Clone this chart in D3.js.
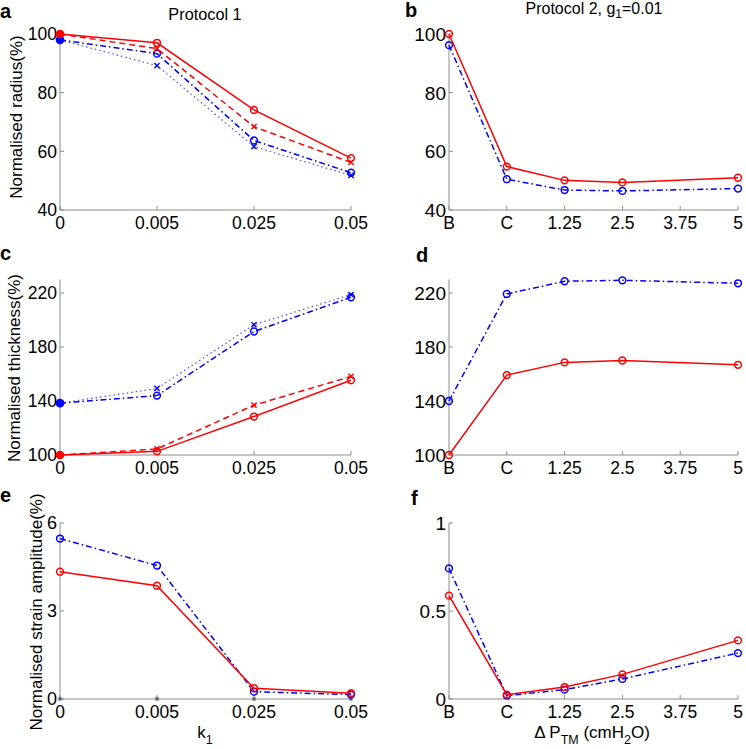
<!DOCTYPE html>
<html><head><meta charset="utf-8">
<script src="https://cdn.jsdelivr.net/npm/d3@7"></script>
<style>
body{margin:0;background:#fff;}
svg{font-family:"Liberation Sans",Arial,Helvetica,sans-serif;}
</style></head>
<body>
<svg id="chart" width="746" height="749"></svg>
<script>
// ---- data ----
const k1Categories = ["0", "0.005", "0.025", "0.05"];
const p2Positions = [-1.25, 0, 1.25, 2.5, 5];
const p2TickValues = [-1.25, 0, 1.25, 2.5, 3.75, 5];
const p2TickLabels = ["B", "C", "1.25", "2.5", "3.75", "5"];

// Protocol 1 (k1)
const radiusRedSolid   = [100, 97.0, 74.1, 57.7];
const radiusRedDashed  = [100, 95.0, 68.4, 56.2];
const radiusBlueDashDot= [98, 93.3, 63.7, 52.7];
const radiusBlueDotted = [98, 89.2, 61.6, 51.8];

const thickRedSolid    = [100, 102.7, 128.5, 155.4];
const thickRedDashed   = [100, 104.5, 136.9, 158.2];
const thickBlueDashDot = [138.4, 144.0, 191.5, 216.8];
const thickBlueDotted  = [138.4, 149.3, 196.5, 218.8];

const strainRed  = [4.34, 3.86, 0.37, 0.20];
const strainBlue = [5.47, 4.55, 0.25, 0.15];
const strainZero = [0, 0, 0, 0];

// Protocol 2 (Delta P_TM)
const p2RadiusRed  = [100, 54.8, 50.1, 49.4, 51.0];
const p2RadiusBlue = [96.2, 50.5, 46.8, 46.5, 47.3];
const p2ThickRed   = [100, 159.2, 168.6, 170.0, 166.8];
const p2ThickBlue  = [140, 219.3, 228.7, 229.4, 227.2];
const p2StrainRed  = [0.587, 0.025, 0.068, 0.140, 0.333];
const p2StrainBlue = [0.742, 0.019, 0.053, 0.114, 0.261];

const radiusTicks = [40, 60, 80, 100];
const thickTicks = [100, 140, 180, 220];
const strainTicks1 = [0, 3, 6];
const strainTicks2 = [0, 0.5, 1];

// ---- styles ----
const RED = "#ff0000", BLUE = "#0000ff", AXIS = "#8c8c8c";
const DASH = "6,4", DASHDOT = "6,3,1.5,3", DOT = "1.5,3";

const svg = d3.select("#chart");

function marker(g, type, x, y, color, filled) {
  if (type === "o") {
    g.append("circle").attr("cx", x).attr("cy", y).attr("r", filled ? 3.6 : 3.4)
      .attr("fill", filled ? color : "none").attr("stroke", color).attr("stroke-width", 1.5);
  } else if (type === "x") {
    const s = 2.6;
    g.append("path").attr("d", `M${x-s},${y-s}L${x+s},${y+s}M${x-s},${y+s}L${x+s},${y-s}`)
      .attr("stroke", color).attr("stroke-width", 1.4);
  } else if (type === "*") {
    const s = 2.2;
    g.append("path").attr("d", `M${x-s},${y}L${x+s},${y}M${x},${y-s}L${x},${y+s}M${x-s*0.7},${y-s*0.7}L${x+s*0.7},${y+s*0.7}M${x-s*0.7},${y+s*0.7}L${x+s*0.7},${y-s*0.7}`)
      .attr("stroke", color).attr("stroke-width", 0.9);
  }
}

function panel(cfg) {
  const g = svg.append("g");
  const x = cfg.x, y = cfg.y;
  const [x0, x1] = x.range();
  const [yb, yt] = y.range();
  // axes lines
  g.append("line").attr("x1", x0).attr("x2", x0).attr("y1", yb).attr("y2", y(cfg.yTop))
    .attr("stroke", AXIS).attr("stroke-width", 1);
  g.append("line").attr("x1", x0).attr("x2", x1).attr("y1", yb).attr("y2", yb)
    .attr("stroke", AXIS).attr("stroke-width", 1);
  // y ticks (inward) + labels
  cfg.yTicks.forEach(v => {
    g.append("line").attr("x1", x0).attr("x2", x0 + 4).attr("y1", y(v)).attr("y2", y(v))
      .attr("stroke", AXIS);
    g.append("text").attr("x", x0 - 3).attr("y", y(v)).attr("dy", "0.36em")
      .attr("text-anchor", "end").attr("font-size", cfg.yFont).text(cfg.yFmt(v));
  });
  // x ticks (inward) + labels
  cfg.xTicks.forEach((v, i) => {
    const px = x(v);
    g.append("line").attr("x1", px).attr("x2", px).attr("y1", yb).attr("y2", yb - 4)
      .attr("stroke", AXIS);
    g.append("text").attr("x", px).attr("y", yb + 19).attr("text-anchor", "middle")
      .attr("font-size", 17.5).text(cfg.xLabels[i]);
  });
  // series
  cfg.series.forEach(s => {
    const pts = s.values.map((v, i) => [x(cfg.xs[i]), y(v)]);
    if (s.line !== false) {
      g.append("path").attr("d", d3.line()(pts)).attr("fill", "none")
        .attr("stroke", s.color).attr("stroke-width", s.width || 1.5)
        .attr("stroke-dasharray", s.dash || null).attr("stroke-opacity", s.opacity || 1);
    }
    pts.forEach((p, i) => marker(g, s.marker, p[0], p[1], s.mcolor || s.color, s.filledFirst && i === 0));
  });
}

// layout
const leftX = [60, 351], rightX = [449, 738];
const rowA = [210, 34], rowC = [455, 293], rowE = [699, 523];

const xk = d3.scalePoint().domain(k1Categories).range(leftX);
const xp = d3.scaleLinear().domain([-1.25, 5]).range(rightX);

const yRad = d3.scaleLinear().domain([40, 100]).range(rowA);
const yThk = d3.scaleLinear().domain([100, 220]).range(rowC);
const yStr1 = d3.scaleLinear().domain([0, 6]).range(rowE);
const yStr2 = d3.scaleLinear().domain([0, 1]).range(rowE);

const fmt = d3.format("");

// Panel a
panel({x: xk, y: yRad, yTop: 100, yTicks: radiusTicks, yFmt: fmt, yFont: 17.5,
  xTicks: k1Categories, xLabels: k1Categories, xs: k1Categories,
  series: [
    {values: radiusBlueDotted, color: BLUE, dash: DOT, marker: "x", width: 1.2, opacity: 0.7, filledFirst: true},
    {values: radiusBlueDashDot, color: BLUE, dash: DASHDOT, marker: "o", filledFirst: true},
    {values: radiusRedDashed, color: RED, dash: DASH, marker: "x", filledFirst: true},
    {values: radiusRedSolid, color: RED, marker: "o", filledFirst: true}
  ]});
// Panel b
panel({x: xp, y: yRad, yTop: 100, yTicks: radiusTicks, yFmt: fmt, yFont: 19,
  xTicks: p2TickValues, xLabels: p2TickLabels, xs: p2Positions,
  series: [
    {values: p2RadiusBlue, color: BLUE, dash: DASHDOT, marker: "o"},
    {values: p2RadiusRed, color: RED, marker: "o"}
  ]});
// Panel c
panel({x: xk, y: yThk, yTop: 230, yTicks: thickTicks, yFmt: fmt, yFont: 17.5,
  xTicks: k1Categories, xLabels: k1Categories, xs: k1Categories,
  series: [
    {values: thickBlueDotted, color: BLUE, dash: DOT, marker: "x", width: 1.2, opacity: 0.7, filledFirst: true},
    {values: thickBlueDashDot, color: BLUE, dash: DASHDOT, marker: "o", filledFirst: true},
    {values: thickRedDashed, color: RED, dash: DASH, marker: "x", filledFirst: true},
    {values: thickRedSolid, color: RED, marker: "o", filledFirst: true}
  ]});
// Panel d
panel({x: xp, y: yThk, yTop: 230, yTicks: thickTicks, yFmt: fmt, yFont: 19,
  xTicks: p2TickValues, xLabels: p2TickLabels, xs: p2Positions,
  series: [
    {values: p2ThickBlue, color: BLUE, dash: DASHDOT, marker: "o"},
    {values: p2ThickRed, color: RED, marker: "o"}
  ]});
// Panel e
panel({x: xk, y: yStr1, yTop: 6, yTicks: strainTicks1, yFmt: fmt, yFont: 18,
  xTicks: k1Categories, xLabels: k1Categories, xs: k1Categories,
  series: [
    {values: strainZero, color: "#555", marker: "*", line: false},
    {values: strainBlue, color: BLUE, dash: DASHDOT, marker: "o"},
    {values: strainRed, color: RED, marker: "o"}
  ]});
// Panel f
panel({x: xp, y: yStr2, yTop: 1, yTicks: strainTicks2, yFmt: fmt, yFont: 19,
  xTicks: p2TickValues, xLabels: p2TickLabels, xs: p2Positions,
  series: [
    {values: p2StrainBlue, color: BLUE, dash: DASHDOT, marker: "o"},
    {values: p2StrainRed, color: RED, marker: "o"}
  ]});

// panel letters
[["a", 0, 18], ["b", 405, 17], ["c", 0, 260], ["d", 416, 262], ["e", 0, 502], ["f", 411, 505]]
  .forEach(([t, x, y]) => svg.append("text").attr("x", x).attr("y", y)
    .attr("font-size", 20).attr("font-weight", "bold").text(t));

// titles
svg.append("text").attr("x", 205).attr("y", 20).attr("text-anchor", "middle")
  .attr("font-size", 16.3).text("Protocol 1");
const t2 = svg.append("text").attr("x", 594).attr("y", 14).attr("text-anchor", "middle")
  .attr("font-size", 16).attr("dominant-baseline", "alphabetic");
t2.append("tspan").text("Protocol 2, g");
t2.append("tspan").attr("font-size", 12).attr("dy", 4).text("1");
t2.append("tspan").attr("dy", -4).text("=0.01");

// y labels
function ylabel(text, x, y) {
  svg.append("text").attr("transform", `translate(${x},${y}) rotate(-90)`)
    .attr("text-anchor", "middle").attr("font-size", 17).text(text);
}
ylabel("Normalised radius(%)", 22, 117);
ylabel("Normalised thickness(%)", 20, 368);
ylabel("Normalised strain amplitude(%)", 42, 612);

// x labels
const xl1 = svg.append("text").attr("x", 205).attr("y", 738).attr("text-anchor", "middle").attr("font-size", 17);
xl1.append("tspan").text("k");
xl1.append("tspan").attr("font-size", 12.5).attr("dy", 6).text("1");

const xl2 = svg.append("text").attr("x", 592).attr("y", 738).attr("text-anchor", "middle").attr("font-size", 17);
xl2.append("tspan").text("Δ P");
xl2.append("tspan").attr("font-size", 12.5).attr("dy", 6).text("TM");
xl2.append("tspan").attr("dy", -6).text(" (cmH");
xl2.append("tspan").attr("font-size", 12.5).attr("dy", 6).text("2");
xl2.append("tspan").attr("dy", -6).text("O)");
</script>
</body></html>
